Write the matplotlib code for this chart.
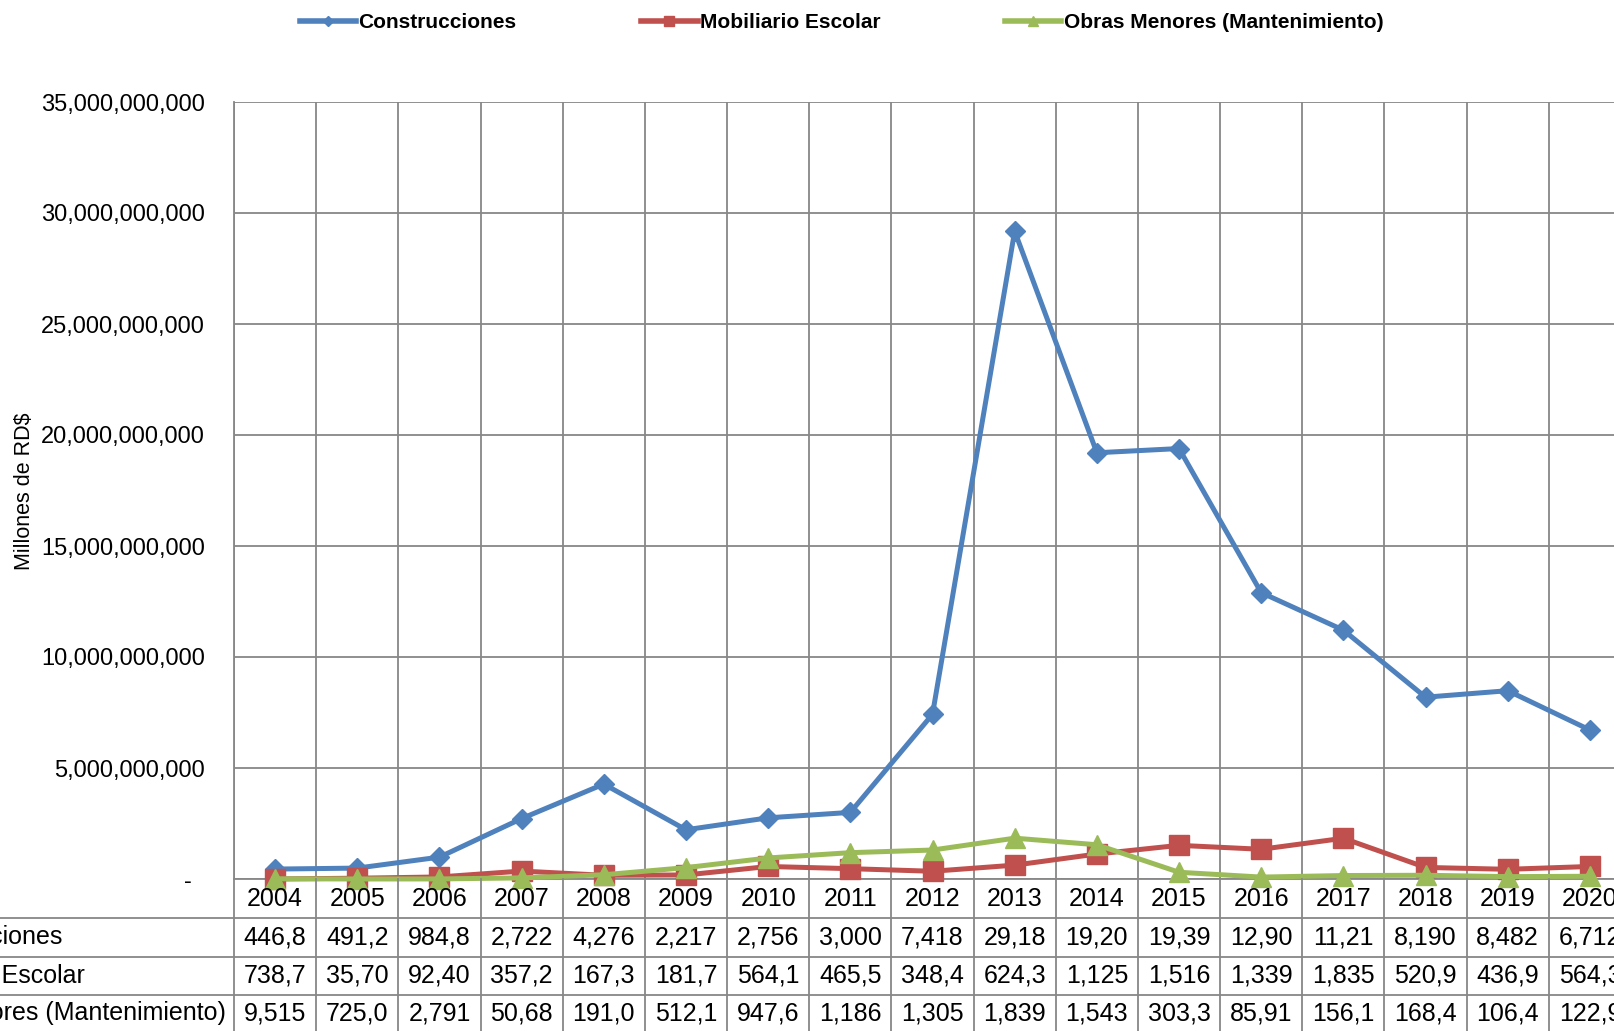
import numpy as np
import matplotlib
matplotlib.use("Agg")
import matplotlib.pyplot as plt
from matplotlib.lines import Line2D
from matplotlib.ticker import FuncFormatter

plt.rcParams['font.family'] = ['Liberation Sans', 'DejaVu Sans']

years = ["2004", "2005", "2006", "2007", "2008", "2009", "2010", "2011", "2012",
         "2013", "2014", "2015", "2016", "2017", "2018", "2019", "2020"]

construcciones = [446.8e6, 491.2e6, 984.8e6, 2.722e9, 4.276e9, 2.217e9, 2.756e9, 3.000e9, 7.418e9,
                  29.18e9, 19.20e9, 19.39e9, 12.90e9, 11.21e9, 8.190e9, 8.482e9, 6.712e9]
mobiliario = [738.7e3, 35.70e6, 92.40e6, 357.2e6, 167.3e6, 181.7e6, 564.1e6, 465.5e6, 348.4e6,
              624.3e6, 1.125e9, 1.516e9, 1.339e9, 1.835e9, 520.9e6, 436.9e6, 564.3e6]
obras = [9.515e6, 725.0e3, 2.791e6, 50.68e6, 191.0e6, 512.1e6, 947.6e6, 1.186e9, 1.305e9,
         1.839e9, 1.543e9, 303.3e6, 85.91e6, 156.1e6, 168.4e6, 106.4e6, 122.9e6]

series_names = ["Construcciones", "Mobiliario Escolar", "Obras Menores (Mantenimiento)"]
colors = ["#4F81BD", "#C0504D", "#9BBB59"]
markers = ["D", "s", "^"]
msizes = [10, 14, 14]

W, H = 1614, 1031
grid_c = "#878787"

# pixel layout
left_px, right_px = 234, 1631
zero_px, top_px = 879, 102
n = len(years)

fig = plt.figure(figsize=(W / 100, H / 100), dpi=100)
ax = fig.add_axes([left_px / W, 1 - zero_px / H, (right_px - left_px) / W, (zero_px - top_px) / H])

x = np.arange(n)
for vals, name, c, m, ms in zip([construcciones, mobiliario, obras], series_names, colors, markers, msizes):
    ax.plot(x, vals, color=c, lw=3.6, marker=m, markersize=ms, label=name,
            clip_on=False, zorder=3)

ax.set_xlim(-0.5, n - 0.5)
ax.set_ylim(0, 35e9)
ax.set_yticks(np.arange(0, 35e9 + 1, 5e9))
ax.yaxis.set_major_formatter(FuncFormatter(lambda v, p: "-  " if v == 0 else f"{v:,.0f}"))
ax.set_xticks(np.arange(-0.5, n, 1.0))
ax.set_xticklabels([])
ax.tick_params(axis="both", length=0, labelsize=17, pad=21)
ax.grid(True, color=grid_c, lw=1.3, zorder=0)
for s in ["top", "right"]:
    ax.spines[s].set_visible(False)
for s in ["left", "bottom"]:
    ax.spines[s].set_color(grid_c)
    ax.spines[s].set_linewidth(1.3)

fig.text(25 / W, 1 - 491 / H, "Millones de RD$", rotation=90, ha="center", va="center", fontsize=15.5)

# data table under the chart, y in pixels from the figure bottom
tab = fig.add_axes([left_px / W, 0, (right_px - left_px) / W, zero_px / H])
tab.set_xlim(-0.5, n - 0.5)
tab.set_ylim(0, zero_px)
tab.axis("off")
for b in np.arange(-0.5, n, 1.0):
    tab.plot([b, b], [0, H - zero_px], color=grid_c, lw=1.3, clip_on=False)
for yl in [918, 957, 995]:
    tab.plot([-5, n], [H - yl, H - yl], color=grid_c, lw=1.3, clip_on=False)

row_centers = [898.5, 937.5, 976, 1013]
label_ends = [63, 85, 226]
for i, yr in enumerate(years):
    tab.text(i, H - row_centers[0], yr, ha="center", va="center", fontsize=18)
for r, vals in enumerate([construcciones, mobiliario, obras]):
    for i, v in enumerate(vals):
        tab.text(i, H - row_centers[r + 1], f"{v:,.0f}"[:5], ha="center", va="center", fontsize=18, clip_on=False)
    fig.text(label_ends[r] / W, 1 - row_centers[r + 1] / H, series_names[r], ha="right", va="center", fontsize=18)

handles = [Line2D([], [], color=c, lw=4, marker=m, markersize=ms * 0.5)
           for c, m, ms in zip(colors, markers, msizes)]
fig.legend(handles, series_names, loc="center", bbox_to_anchor=(841.5 / W, 1 - 23 / H), ncol=3,
           frameon=False, handlelength=2.7, handletextpad=0.1, columnspacing=6.0,
           prop={"weight": "bold", "size": 15})

fig.savefig("out.png", dpi=100)
